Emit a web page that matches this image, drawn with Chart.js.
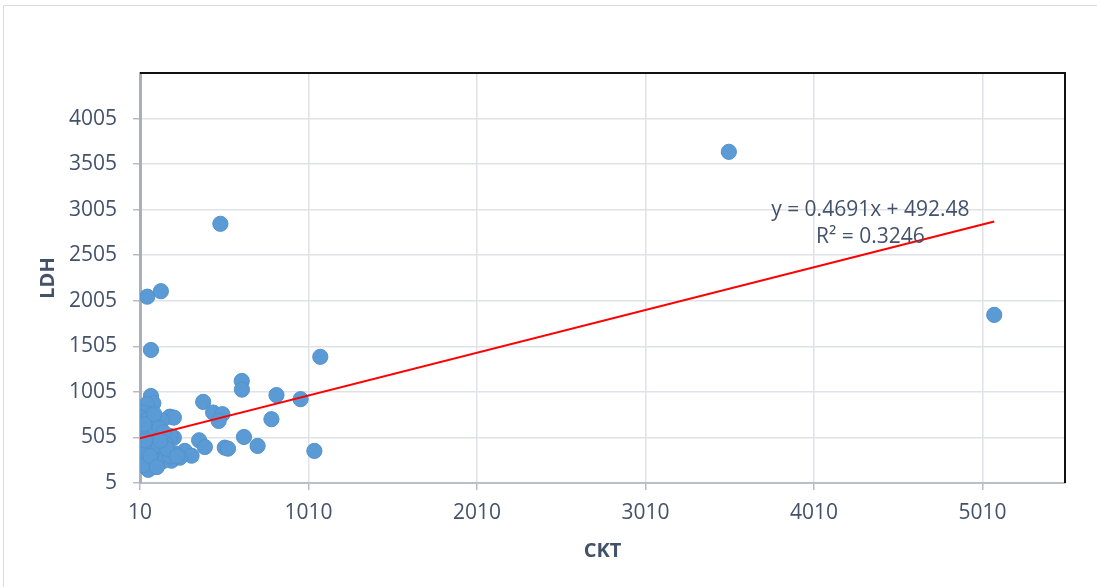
<!DOCTYPE html>
<html>
<head>
<meta charset="utf-8">
<script src="https://cdn.jsdelivr.net/npm/chart.js@4.4.1/dist/chart.umd.min.js"></script>
<style>
  html, body { margin: 0; padding: 0; background: #ffffff; overflow: hidden; }
  #wrap { position: absolute; left: 0; top: 0; width: 1097px; height: 587px; }
</style>
</head>
<body>
<div id="wrap"><canvas id="chart"></canvas></div>
<script>
// CKT values (x) and matching LDH values (y), one entry per patient
const ckt = [
  53, 134, 75, 487, 1080, 614, 615, 385, 820, 963,
  444, 499, 477, 790, 627, 708, 1045, 513, 532, 361,
  395, 276, 316, 187, 211, 211, 217, 197, 247, 3505,
  5080, 75, 89, 50, 30, 10, 79, 40, 109, 118,
  190, 10, 59, 20, 69, 59, 138, 148, 109, 187,
  5, 25, 65, 90, 45, 15, 80, 120, 100, 140,
  30, 160, 55, 95, 125, 8, 40, 70, 170, 150,
  110, 230, 130, 35
];
const ldh = [
  2050, 2110, 1465, 2850, 1390, 1125, 1030, 895, 970, 925,
  778, 760, 686, 705, 510, 412, 357, 393, 382, 474,
  400, 357, 305, 733, 723, 503, 330, 250, 283, 3640,
  1850, 960, 881, 870, 778, 725, 760, 613, 650, 540,
  520, 503, 430, 283, 210, 150, 357, 247, 265, 302,
  300, 560, 520, 470, 380, 420, 330, 420, 600, 690,
  200, 440, 700, 760, 610, 360, 470, 300, 380, 560,
  180, 300, 470, 650
];

// Axis tick labels
const xTicks = [10, 1010, 2010, 3010, 4010, 5010];
const yTicks = [5, 505, 1005, 1505, 2005, 2505, 3005, 3505, 4005];

// Linear trendline shown on the chart
const slope = 0.4691;
const intercept = 492.48;
const rSquared = 0.3246;

const textColor = '#43526a';
const fontFamily = '"Open Sans", "Noto Sans", sans-serif';

const points = ckt.map((x, i) => ({ x: x, y: ldh[i] }));
const xMin = Math.min(...ckt);
const xMax = Math.max(...ckt);
const trend = [xMin, xMax].map(x => ({ x: x, y: slope * x + intercept }));

// Outer chart frame plus the dark top/right plot border and the trendline label
const decorations = {
  id: 'decorations',
  beforeDraw(chart) {
    const ctx = chart.ctx;
    ctx.save();
    ctx.fillStyle = '#ffffff';
    ctx.fillRect(0, 0, chart.width, chart.height);
    ctx.strokeStyle = '#d9dce1';
    ctx.lineWidth = 1;
    ctx.strokeRect(3.5, 5.5, chart.width + 10, chart.height + 10);
    ctx.restore();
  },
  afterDatasetsDraw(chart) {
    const { ctx, chartArea: a, scales } = chart;
    ctx.save();
    ctx.strokeStyle = '#111111';
    ctx.lineWidth = 2;
    ctx.beginPath();
    ctx.moveTo(a.left, a.top);
    ctx.lineTo(a.right, a.top);
    ctx.lineTo(a.right, a.bottom);
    ctx.stroke();

    const lx = scales.x.getPixelForValue(4345);
    const ly = scales.y.getPixelForValue(3005);
    ctx.fillStyle = textColor;
    ctx.font = '21px ' + fontFamily;
    ctx.textAlign = 'center';
    ctx.textBaseline = 'middle';
    ctx.fillText('y = ' + slope + 'x + ' + intercept, lx, ly);
    ctx.fillText('R\u00B2 = ' + rSquared, lx, ly + 27);
    ctx.restore();
  }
};

const plainLabel = v => String(v);

new Chart(document.getElementById('chart'), {
  type: 'scatter',
  data: {
    datasets: [
      {
        type: 'line',
        label: 'Linear (LDH)',
        data: trend,
        borderColor: '#ff0000',
        borderWidth: 2,
        pointRadius: 0,
        fill: false,
        order: 0
      },
      {
        label: 'LDH',
        data: points,
        backgroundColor: '#5b9bd5',
        borderColor: '#5592cc',
        borderWidth: 1,
        pointRadius: 7.6,
        order: 1
      }
    ]
  },
  options: {
    responsive: true,
    maintainAspectRatio: false,
    animation: false,
    layout: { padding: { top: 73, right: 32, left: 0, bottom: 0 } },
    plugins: {
      legend: { display: false },
      tooltip: { enabled: false }
    },
    scales: {
      x: {
        type: 'linear',
        min: 10,
        max: 5500,
        afterBuildTicks: s => { s.ticks = xTicks.map(v => ({ value: v })); },
        afterFit: s => { s.height = 104; },
        grid: { color: '#dfe2e7', lineWidth: 1.5, tickLength: 7, tickColor: '#b7bcc6' },
        border: { color: '#b9bec7', width: 2 },
        ticks: {
          color: textColor,
          font: { family: fontFamily, size: 21 },
          padding: 10,
          maxRotation: 0,
          autoSkip: false,
          callback: plainLabel
        },
        title: {
          display: true,
          text: 'CKT',
          color: textColor,
          font: { family: fontFamily, size: 20, weight: 'bold', lineHeight: 1.2 },
          padding: { top: 0, bottom: 24 }
        }
      },
      y: {
        type: 'linear',
        min: 5,
        max: 4505,
        afterBuildTicks: s => { s.ticks = yTicks.map(v => ({ value: v })); },
        afterFit: s => { s.width = 140; },
        grid: { color: '#dfe2e7', lineWidth: 1.5, tickLength: 7, tickColor: '#b7bcc6' },
        border: { color: '#a9b0bc', width: 3 },
        ticks: {
          color: textColor,
          font: { family: fontFamily, size: 21 },
          padding: 16,
          autoSkip: false,
          callback: plainLabel
        },
        title: {
          display: true,
          text: 'LDH',
          color: textColor,
          font: { family: fontFamily, size: 20, weight: 'bold', lineHeight: 1.2 },
          padding: { top: 36, bottom: 0 }
        }
      }
    }
  },
  plugins: [decorations]
});
</script>
</body>
</html>
